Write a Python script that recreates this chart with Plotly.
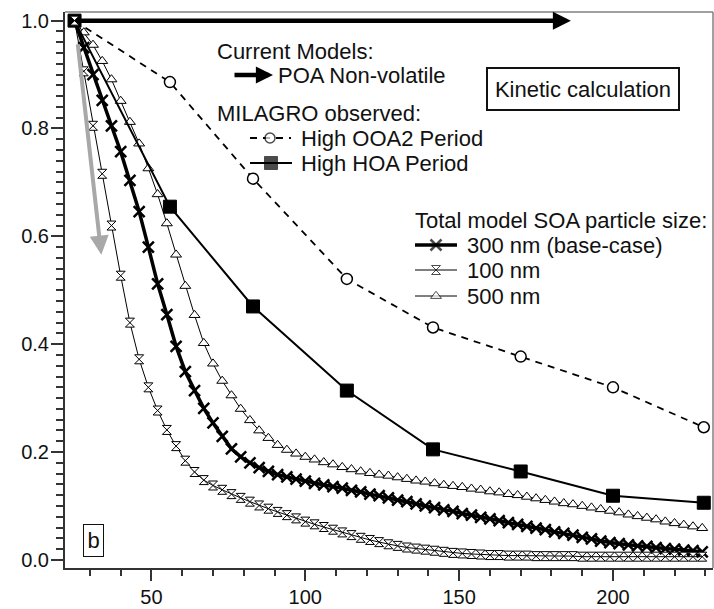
import plotly.graph_objects as go

# ---------------- data ----------------
model_x = [25, 28, 31, 34, 37, 40, 43, 46, 49, 52,
           55, 58, 61, 64, 67, 70, 73, 76, 79, 82,
           85, 88, 91, 94, 97, 100, 103, 106, 109, 112,
           115, 118, 121, 124, 127, 130, 133, 136, 139, 142,
           145, 148, 151, 154, 157, 160, 163, 166, 169, 172,
           175, 178, 181, 184, 187, 190, 193, 196, 199, 202,
           205, 208, 211, 214, 217, 220, 223, 226, 229]

soa_500nm = [1.000, 0.978, 0.955, 0.925, 0.891, 0.851, 0.812, 0.772, 0.726, 0.678,
             0.624, 0.566, 0.508, 0.454, 0.402, 0.364, 0.332, 0.305, 0.280, 0.259,
             0.240, 0.226, 0.213, 0.204, 0.197, 0.191, 0.186, 0.181, 0.177, 0.172,
             0.168, 0.164, 0.161, 0.158, 0.156, 0.153, 0.150, 0.147, 0.145, 0.142,
             0.139, 0.137, 0.135, 0.132, 0.130, 0.127, 0.125, 0.122, 0.120, 0.117,
             0.114, 0.111, 0.108, 0.105, 0.103, 0.100, 0.097, 0.094, 0.091, 0.088,
             0.084, 0.081, 0.078, 0.075, 0.071, 0.068, 0.065, 0.062, 0.059]

soa_300nm = [1.000, 0.950, 0.900, 0.852, 0.805, 0.757, 0.704, 0.646, 0.580, 0.512,
             0.455, 0.396, 0.349, 0.314, 0.281, 0.254, 0.229, 0.206, 0.191, 0.180,
             0.171, 0.164, 0.158, 0.154, 0.150, 0.146, 0.142, 0.139, 0.136, 0.133,
             0.129, 0.126, 0.122, 0.119, 0.115, 0.111, 0.108, 0.104, 0.100, 0.097,
             0.093, 0.090, 0.086, 0.083, 0.079, 0.076, 0.073, 0.069, 0.066, 0.062,
             0.059, 0.056, 0.052, 0.049, 0.046, 0.042, 0.039, 0.035, 0.032, 0.030,
             0.028, 0.026, 0.025, 0.023, 0.021, 0.020, 0.018, 0.017, 0.015]

soa_100nm = [1.000, 0.906, 0.805, 0.716, 0.620, 0.527, 0.440, 0.372, 0.320, 0.277,
             0.241, 0.211, 0.184, 0.163, 0.148, 0.138, 0.130, 0.122, 0.115, 0.108,
             0.101, 0.095, 0.089, 0.083, 0.077, 0.071, 0.066, 0.061, 0.056, 0.051,
             0.046, 0.041, 0.037, 0.033, 0.029, 0.026, 0.023, 0.021, 0.019, 0.017,
             0.015, 0.013, 0.012, 0.011, 0.010, 0.009, 0.009, 0.008, 0.008, 0.008,
             0.007, 0.007, 0.007, 0.007, 0.007, 0.006, 0.006, 0.006, 0.006, 0.006,
             0.006, 0.006, 0.006, 0.006, 0.006, 0.006, 0.006, 0.006, 0.006]

obs_x = [25, 56, 83, 113.5, 141.5, 170, 200, 229.5]
ooa2_high = [1.000, 0.886, 0.707, 0.521, 0.431, 0.377, 0.320, 0.246]
hoa_high = [1.000, 0.655, 0.470, 0.314, 0.205, 0.164, 0.119, 0.106]

x_tick_vals = [50, 100, 150, 200]
x_tick_text = ["50", "100", "150", "200"]
y_tick_vals = [0.0, 0.2, 0.4, 0.6, 0.8, 1.0]
y_tick_text = ["0.0", "0.2", "0.4", "0.6", "0.8", "1.0"]

# arrows (data units)
poa_arrow_start = (25, 1.0)
poa_arrow_end = (186.3, 1.0)
gray_arrow_start = (26.0, 0.959)
gray_arrow_end = (33.7, 0.566)

# ---------------- layout constants ----------------
W, H = 714, 609
ML, MR, MT, MB = 65, 1, 12, 41
FONT = "Arial, Liberation Sans, sans-serif"
INK = "#111111"
AX = "#333333"
LEG_FS = 22

fig = go.Figure()

fig.add_trace(go.Scatter(
    x=model_x, y=soa_500nm, mode="lines+markers", name="500 nm",
    line=dict(color="black", width=1),
    marker=dict(symbol="triangle-up", size=9.5, color="white",
                line=dict(color="black", width=1))))
fig.add_trace(go.Scatter(
    x=model_x, y=soa_300nm, mode="lines+markers", name="300 nm (base-case)",
    line=dict(color="black", width=3.5),
    marker=dict(symbol="x-thin", size=11, color="black",
                line=dict(color="black", width=2.5))))
fig.add_trace(go.Scatter(
    x=obs_x, y=ooa2_high, mode="lines+markers", name="High OOA2 Period",
    line=dict(color="black", width=1.8, dash="7px,6px"),
    marker=dict(symbol="circle", size=11, color="white",
                line=dict(color="black", width=1.5))))
fig.add_trace(go.Scatter(
    x=obs_x, y=hoa_high, mode="lines+markers", name="High HOA Period",
    line=dict(color="black", width=2),
    marker=dict(symbol="square", size=13, color="black",
                line=dict(color="black", width=1))))
fig.add_trace(go.Scatter(
    x=model_x, y=soa_100nm, mode="lines+markers", name="100 nm",
    line=dict(color="black", width=1),
    marker=dict(symbol="hourglass", size=9, color="white",
                line=dict(color="black", width=1))))

# ---------------- legend key (drawn in pixel space on an overlay axis) ----------------
def key(xs, ys, line, marker):
    fig.add_trace(go.Scatter(x=xs, y=ys, xaxis="x2", yaxis="y2", mode="lines+markers",
                             line=line, marker=marker, showlegend=False,
                             hoverinfo="skip"))

key([250, 270, 291], [138, 138, 138], dict(color="black", width=1.8, dash="7px,6px"),
    dict(symbol="circle", size=[0, 10, 0], color="white", line=dict(color="black", width=1.5)))
key([250, 271, 292], [163, 163, 163], dict(color="black", width=2),
    dict(symbol="square", size=[0, 13, 0], color="black", line=dict(color="black", width=1)))
key([415, 436, 457], [245, 245, 245], dict(color="black", width=3.5),
    dict(symbol="x-thin", size=[0, 11, 0], color="black", line=dict(color="black", width=2.5)))
key([415, 436, 457], [270, 270, 270], dict(color="black", width=1),
    dict(symbol="hourglass", size=[0, 9, 0], color="white", line=dict(color="black", width=1)))
key([415, 436, 457], [296, 296, 296], dict(color="black", width=1),
    dict(symbol="triangle-up", size=[0, 9.5, 0], color="white", line=dict(color="black", width=1)))

annotations = []

def label(text, x, y, size=LEG_FS, **kw):
    d = dict(text=text, x=x, y=y, xref="x2", yref="y2", xanchor="left", yanchor="middle",
             showarrow=False, font=dict(family=FONT, size=size, color=INK))
    d.update(kw)
    annotations.append(d)

label("Current Models:", 215, 51)
label("POA Non-volatile", 276, 75)
label("MILAGRO observed:", 215, 113)
label("High OOA2 Period", 299, 138)
label("High HOA Period", 299, 163)
label("Total model SOA particle size:", 413, 220)
label("300 nm (base-case)", 465, 245)
label("100 nm", 465, 270)
label("500 nm", 465, 296)

# legend arrow
annotations.append(dict(x=273, y=75, ax=233, ay=75, xref="x2", yref="y2", axref="x2", ayref="y2",
                        text="", showarrow=True, arrowhead=2, arrowsize=0.76, arrowwidth=4.5,
                        arrowcolor="black", standoff=0, startstandoff=0))

# boxed labels
annotations.append(dict(text="Kinetic calculation", x=583, y=89, xref="x2", yref="y2",
                        xanchor="center", yanchor="middle", showarrow=False,
                        width=178, height=28,
                        font=dict(family=FONT, size=LEG_FS, color=INK),
                        bordercolor="#111111", borderwidth=2, borderpad=6, bgcolor="white"))
annotations.append(dict(text="b", x=93.7, y=540.7, xref="x2", yref="y2",
                        xanchor="center", yanchor="middle", showarrow=False,
                        width=14, height=26,
                        font=dict(family=FONT, size=LEG_FS, color=INK),
                        bordercolor="#111111", borderwidth=1, borderpad=2.5, bgcolor="white"))

# data-space arrows
annotations.append(dict(x=poa_arrow_end[0], y=poa_arrow_end[1], ax=poa_arrow_start[0], ay=poa_arrow_start[1],
                        xref="x", yref="y", axref="x", ayref="y", text="", showarrow=True,
                        arrowhead=2, arrowsize=0.8, arrowwidth=4.5, arrowcolor="black",
                        standoff=0, startstandoff=0))
annotations.append(dict(x=gray_arrow_end[0], y=gray_arrow_end[1], ax=gray_arrow_start[0], ay=gray_arrow_start[1],
                        xref="x", yref="y", axref="x", ayref="y", text="", showarrow=True,
                        arrowhead=2, arrowsize=0.95, arrowwidth=4, arrowcolor="#a8a8a8",
                        standoff=0, startstandoff=0))

shapes = [
    dict(type="line", xref="paper", yref="paper", x0=0, x1=1, y0=1, y1=1,
         line=dict(color="#808080", width=1.5)),
    dict(type="line", xref="paper", yref="paper", x0=1, x1=1, y0=0, y1=1,
         line=dict(color="#808080", width=1.5)),
]

fig.update_layout(
    width=W, height=H,
    margin=dict(l=ML, r=MR, t=MT, b=MB, pad=0, autoexpand=False),
    paper_bgcolor="white", plot_bgcolor="white",
    showlegend=False,
    font=dict(family=FONT, color=INK),
    annotations=annotations,
    shapes=shapes,
    xaxis=dict(range=[21.9, 232.5], tickmode="array", tickvals=x_tick_vals, ticktext=x_tick_text,
               automargin=False,
               showgrid=False, zeroline=False, showline=True, linewidth=2, linecolor=AX,
               ticks="outside", ticklen=11, tickwidth=1.5, tickcolor=AX,
               tickfont=dict(family=FONT, size=20, color=INK), ticklabelstandoff=-1,
               minor=dict(tickmode="linear", tick0=0, dtick=10, ticks="outside", ticklen=6,
                          tickwidth=1.5, tickcolor=AX, showgrid=False)),
    yaxis=dict(range=[-0.015, 1.016], tickmode="array", tickvals=y_tick_vals, ticktext=y_tick_text,
               automargin=False,
               showgrid=False, zeroline=False, showline=True, linewidth=2, linecolor=AX,
               ticks="outside", ticklen=12, tickwidth=1.5, tickcolor=AX,
               tickfont=dict(family=FONT, size=20, color=INK), ticklabelstandoff=-2,
               minor=dict(tickmode="linear", tick0=0, dtick=0.02, ticks="outside", ticklen=7,
                          tickwidth=1.5, tickcolor=AX, showgrid=False)),
    xaxis2=dict(overlaying="x", range=[ML, W - MR], visible=False, fixedrange=True, automargin=False),
    yaxis2=dict(overlaying="y", range=[H - MB, MT], visible=False, fixedrange=True, automargin=False),
)

fig.write_html("out.html")
